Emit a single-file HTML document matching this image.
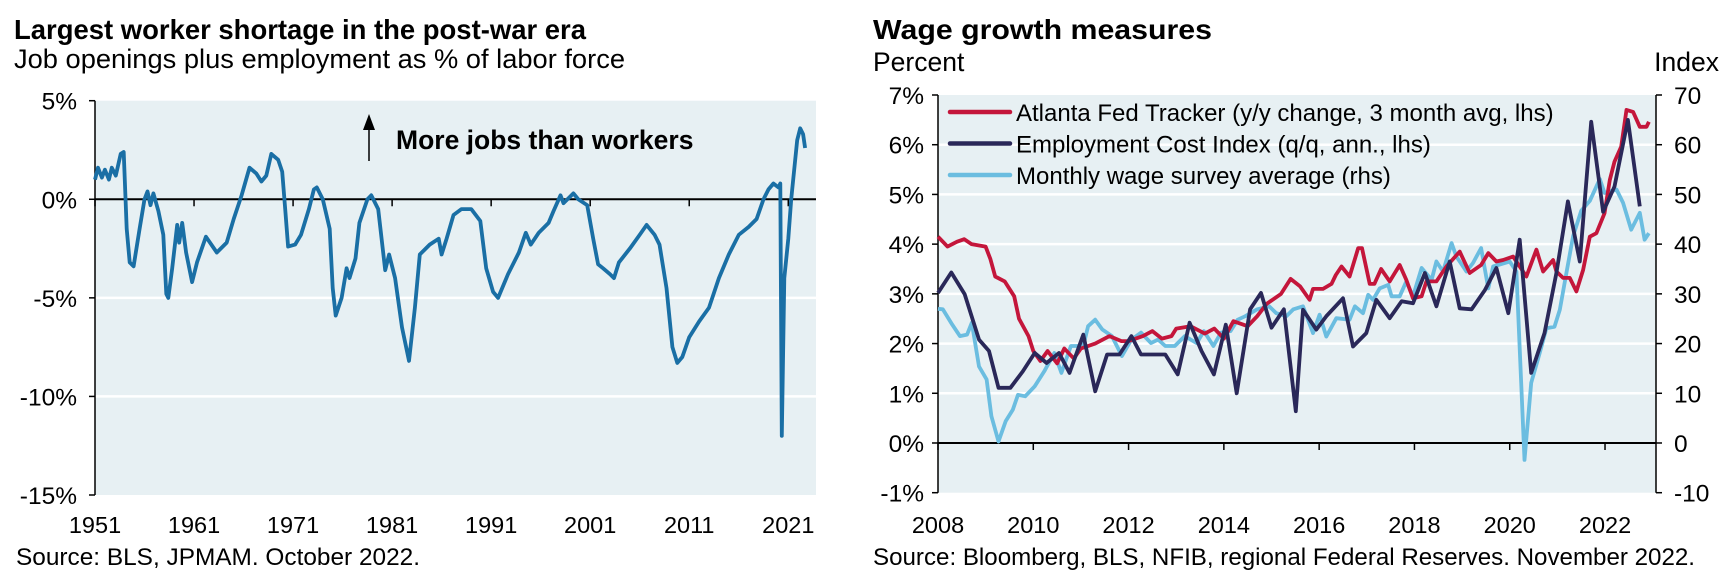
<!DOCTYPE html>
<html><head><meta charset="utf-8"><style>
html,body{margin:0;padding:0;background:#fff;}
svg{display:block;font-family:"Liberation Sans",Arial,sans-serif;}
</style></head><body>
<svg id="chart" width="1721" height="587" viewBox="0 0 1721 587" xmlns="http://www.w3.org/2000/svg">
<g id="left">
<text x="14" y="39" font-size="27.5" font-weight="bold" fill="#000" textLength="572" lengthAdjust="spacingAndGlyphs">Largest worker shortage in the post-war era</text>
<text x="14" y="68" font-size="26.5" fill="#000" textLength="611" lengthAdjust="spacingAndGlyphs">Job openings plus employment as % of labor force</text>
<text x="16" y="565" font-size="24" fill="#000" textLength="404" lengthAdjust="spacingAndGlyphs">Source: BLS, JPMAM. October 2022.</text>
</g>
<g id="right">
<text x="873" y="39" font-size="28" font-weight="bold" fill="#000" textLength="339" lengthAdjust="spacingAndGlyphs">Wage growth measures</text>
<text x="873" y="71" font-size="26.5" fill="#000">Percent</text>
<text x="1719" y="71" font-size="26.5" text-anchor="end" fill="#000">Index</text>
<text x="873" y="565" font-size="24" fill="#000" textLength="822" lengthAdjust="spacingAndGlyphs">Source: Bloomberg, BLS, NFIB, regional Federal Reserves. November 2022.</text>
</g>
</svg>
<script>
// ---------- Left chart data ----------
const leftYears = [1951.0,1951.3,1951.7,1952.0,1952.4,1952.7,1953.1,1953.6,1953.9,1954.2,1954.5,1954.9,1955.5,1956.0,1956.3,1956.6,1956.9,1957.4,1957.9,1958.2,1958.4,1958.8,1959.3,1959.5,1959.8,1960.2,1960.8,1961.3,1962.2,1963.3,1964.3,1965.0,1965.8,1966.6,1967.3,1967.8,1968.3,1968.8,1969.5,1969.9,1970.2,1970.5,1971.2,1971.8,1972.6,1973.1,1973.4,1974.0,1974.7,1975.0,1975.3,1975.9,1976.4,1976.7,1977.3,1977.7,1978.5,1978.9,1979.6,1980.3,1980.7,1981.3,1982.0,1982.7,1983.3,1983.8,1984.8,1985.7,1986.0,1986.5,1987.2,1988.0,1989.0,1989.9,1990.5,1991.2,1991.7,1992.7,1993.8,1994.5,1995.0,1995.8,1996.8,1997.3,1998.0,1998.3,1999.3,1999.8,2000.7,2001.3,2001.8,2002.3,2003.0,2003.4,2003.9,2005.0,2006.0,2006.7,2007.5,2008.0,2008.7,2009.3,2009.8,2010.3,2011.0,2012.0,2013.0,2014.0,2015.0,2016.0,2017.0,2017.8,2018.5,2019.0,2019.5,2020.0,2020.2,2020.35,2020.6,2021.0,2021.3,2021.6,2021.9,2022.2,2022.5,2022.7];
const leftValues = [1.0,1.6,1.1,1.5,1.0,1.6,1.2,2.3,2.4,-1.5,-3.2,-3.4,-1.5,0.0,0.4,-0.3,0.3,-0.6,-1.8,-4.8,-5.0,-3.5,-1.3,-2.2,-1.2,-2.7,-4.2,-3.2,-1.9,-2.7,-2.2,-1.0,0.2,1.6,1.3,0.9,1.2,2.3,2.0,1.4,-0.5,-2.4,-2.3,-1.8,-0.5,0.5,0.6,0.0,-1.5,-4.5,-5.9,-5.0,-3.5,-4.0,-3.0,-1.2,0.0,0.2,-0.5,-3.6,-2.8,-4.0,-6.5,-8.2,-5.5,-2.8,-2.3,-2.0,-2.8,-2.0,-0.8,-0.5,-0.5,-1.1,-3.5,-4.7,-5.0,-3.8,-2.7,-1.7,-2.3,-1.7,-1.2,-0.6,0.2,-0.2,0.3,0.0,-0.3,-2.0,-3.3,-3.5,-3.8,-4.0,-3.2,-2.5,-1.8,-1.3,-1.8,-2.3,-4.5,-7.5,-8.3,-8.0,-7.0,-6.2,-5.5,-4.0,-2.8,-1.8,-1.4,-1.0,0.0,0.5,0.8,0.6,0.8,-12.0,-4.0,-2.0,0.0,1.5,3.0,3.6,3.3,2.6];
const leftYTicks = [5,0,-5,-10,-15];
const leftYTickLabels = ["5%","0%","-5%","-10%","-15%"];
const leftXTicks = [1951,1961,1971,1981,1991,2001,2011,2021];

// ---------- Right chart data ----------
const atlYears = [2008.0,2008.2,2008.4,2008.55,2008.7,2009.0,2009.1,2009.2,2009.4,2009.6,2009.7,2009.9,2010.0,2010.15,2010.3,2010.5,2010.65,2010.85,2011.0,2011.3,2011.6,2011.85,2012.0,2012.3,2012.5,2012.7,2012.9,2013.0,2013.3,2013.6,2013.8,2014.0,2014.2,2014.5,2014.7,2014.9,2015.2,2015.4,2015.6,2015.8,2015.87,2016.08,2016.26,2016.35,2016.47,2016.64,2016.82,2016.9,2017.06,2017.16,2017.3,2017.48,2017.69,2017.83,2017.97,2018.15,2018.25,2018.46,2018.67,2018.95,2019.16,2019.4,2019.55,2019.72,2019.86,2020.07,2020.35,2020.56,2020.7,2020.91,2020.98,2021.12,2021.26,2021.4,2021.54,2021.68,2021.82,2021.99,2022.1,2022.2,2022.34,2022.45,2022.59,2022.73,2022.87,2022.92];
const atlValues = [4.15,3.95,4.05,4.1,4.0,3.95,3.7,3.35,3.25,2.95,2.5,2.15,1.85,1.65,1.85,1.6,1.9,1.7,1.9,2.0,2.15,2.05,2.05,2.15,2.25,2.1,2.15,2.3,2.35,2.2,2.3,2.1,2.45,2.35,2.55,2.8,3.0,3.3,3.15,2.88,3.1,3.1,3.2,3.38,3.55,3.35,3.92,3.92,3.2,3.2,3.5,3.25,3.58,3.28,2.91,2.95,3.25,3.25,3.55,3.85,3.42,3.58,3.82,3.65,3.68,3.75,3.35,3.89,3.45,3.68,3.45,3.32,3.32,3.05,3.48,4.15,4.22,4.62,5.29,5.66,5.96,6.7,6.66,6.36,6.36,6.46];
const eciYears = [2008.0,2008.28,2008.56,2008.86,2009.07,2009.27,2009.52,2009.78,2010.03,2010.28,2010.54,2010.76,2011.05,2011.3,2011.55,2011.81,2012.06,2012.26,2012.52,2012.77,2013.03,2013.28,2013.53,2013.79,2014.04,2014.27,2014.55,2014.78,2015.0,2015.26,2015.51,2015.66,2015.94,2016.15,2016.5,2016.71,2016.99,2017.2,2017.48,2017.73,2017.97,2018.22,2018.46,2018.74,2018.95,2019.2,2019.48,2019.72,2019.97,2020.21,2020.45,2020.73,2020.98,2021.22,2021.47,2021.71,2021.96,2022.2,2022.48,2022.73];
const eciValues = [3.02,3.43,2.99,2.08,1.85,1.11,1.11,1.44,1.81,1.61,1.81,1.41,2.18,1.04,1.78,1.78,2.15,1.78,1.78,1.78,1.38,2.42,1.85,1.38,2.38,1.0,2.69,3.02,2.32,2.69,0.64,2.68,2.28,2.55,2.91,1.94,2.21,2.88,2.51,2.85,2.81,3.42,2.75,3.65,2.71,2.69,3.08,3.52,2.61,4.09,1.41,2.21,3.42,4.86,3.65,6.46,4.65,5.16,6.5,4.76];
const surveyYears = [2008.0,2008.1,2008.3,2008.46,2008.61,2008.71,2008.86,2009.02,2009.12,2009.27,2009.42,2009.57,2009.68,2009.83,2010.03,2010.23,2010.44,2010.59,2010.79,2011.05,2011.15,2011.3,2011.45,2011.65,2011.86,2012.06,2012.26,2012.47,2012.62,2012.77,2012.97,2013.18,2013.43,2013.58,2013.78,2013.94,2014.14,2014.29,2014.45,2014.7,2014.95,2015.1,2015.31,2015.46,2015.66,2015.87,2016.01,2016.15,2016.36,2016.64,2016.75,2016.92,2017.03,2017.13,2017.27,2017.45,2017.52,2017.69,2017.83,2017.97,2018.15,2018.36,2018.46,2018.6,2018.78,2018.88,2019.09,2019.23,2019.4,2019.55,2019.65,2019.79,2020.0,2020.14,2020.31,2020.45,2020.63,2020.77,2020.94,2021.05,2021.19,2021.33,2021.5,2021.68,2021.89,2021.99,2022.24,2022.38,2022.55,2022.73,2022.83,2022.92];
const surveyValues = [27.0,26.9,23.8,21.5,21.8,24.2,15.4,12.8,5.4,0.3,4.4,6.7,9.7,9.4,11.4,14.4,18.1,14.1,19.5,19.5,23.5,24.8,22.8,21.5,17.5,20.8,22.2,20.1,20.8,19.5,19.5,21.5,20.1,22.5,19.5,22.2,22.5,24.8,25.5,26.9,27.5,26.1,25.5,26.9,27.5,22.1,25.8,21.4,25.1,24.8,27.5,26.1,29.8,28.8,31.1,31.8,29.5,29.5,32.5,29.5,35.2,32.8,36.5,34.5,40.2,37.5,34.5,36.2,39.2,31.1,35.5,35.9,36.5,34.5,-3.4,12.1,18.1,23.1,23.4,26.8,34.2,41.6,46.7,48.7,53.1,50.3,51.0,48.3,42.9,46.3,40.9,42.2];
const rLeftTicks = [7,6,5,4,3,2,1,0,-1];
const rLeftTickLabels = ["7%","6%","5%","4%","3%","2%","1%","0%","-1%"];
const rRightTicks = [70,60,50,40,30,20,10,0,-10];
const rXTicks = [2008,2010,2012,2014,2016,2018,2020,2022];
const legendLabels = ["Atlanta Fed Tracker (y/y change, 3 month avg, lhs)","Employment Cost Index (q/q, ann., lhs)","Monthly wage survey average (rhs)"];

const NS = "http://www.w3.org/2000/svg";
function mk(tag, attrs, parent){const e=document.createElementNS(NS,tag);for(const k in attrs)e.setAttribute(k,attrs[k]);parent.appendChild(e);return e;}

// ---------- Left chart ----------
(function(){
  const g = document.getElementById('left');
  const X0=95, X1=816, Y0=100.7, Y1=495;
  const yr0=1951, yr1=2023.8, vTop=5, vBot=-15;
  const x = yr => X0 + (yr-yr0)/(yr1-yr0)*(X1-X0);
  const y = v => Y0 + (vTop-v)/(vTop-vBot)*(Y1-Y0);
  const bg = mk('rect',{x:X0,y:Y0,width:X1-X0,height:Y1-Y0,fill:'#e7f0f3'},g);
  
  
  leftYTicks.forEach((t,i)=>{
    if(t!==0 && t!==vTop && t!==vBot){
      const gl=mk('line',{x1:X0,x2:X1,y1:y(t),y2:y(t),stroke:'#fff','stroke-width':2.5},g);
      
      
    }
    const tk=mk('line',{x1:X0-6,x2:X0,y1:y(t),y2:y(t),stroke:'#000','stroke-width':1.5},g);
    
    
    const lb=mk('text',{x:X0-18,y:y(t)+9,'font-size':24.5,'text-anchor':'end',fill:'#000'},g);
    lb.textContent=leftYTickLabels[i];
    
    
  });
  const ax=mk('line',{x1:X0,x2:X0,y1:Y0,y2:Y1,stroke:'#000','stroke-width':1.5},g);
  
  
  const zl=mk('line',{x1:X0,x2:X1,y1:y(0),y2:y(0),stroke:'#000','stroke-width':2},g);
  
  
  leftXTicks.forEach(t=>{
    const tk=mk('line',{x1:x(t),x2:x(t),y1:y(0),y2:y(0)+7,stroke:'#000','stroke-width':1.5},g);
    
    
    const lb=mk('text',{x:x(t),y:533,'font-size':23.5,'text-anchor':'middle',fill:'#000'},g);
    lb.textContent=String(t);
    
    
  });
  const pts=leftYears.map((yr,i)=>x(yr).toFixed(1)+','+y(leftValues[i]).toFixed(1)).join(' ');
  const ln=mk('polyline',{points:pts,fill:'none',stroke:'#1a6fa5','stroke-width':3.8,'stroke-linejoin':'round'},g);
  
  
  const ar=mk('line',{x1:369,x2:369,y1:161,y2:128,stroke:'#000','stroke-width':1.5},g);
  
  
  const ah=mk('polygon',{points:'369,114 363,130 375,130',fill:'#000'},g);
  
  
  const at=mk('text',{x:396,y:149,'font-size':26.5,'font-weight':'bold',fill:'#000'},g);
  at.textContent='More jobs than workers';
  
  
})();

// ---------- Right chart ----------
(function(){
  const g = document.getElementById('right');
  const X0=938, X1=1656, Y0=95, Y1=492.7;
  const yr0=2008, yr1=2023.07, vTop=7, vBot=-1;
  const x = yr => X0 + (yr-yr0)/(yr1-yr0)*(X1-X0);
  const y = v => Y0 + (vTop-v)/(vTop-vBot)*(Y1-Y0);
  const yr = v => y(v/10);
  const bg = mk('rect',{x:X0,y:Y0,width:X1-X0,height:Y1-Y0,fill:'#e7f0f3'},g);
  
  
  rLeftTicks.forEach((t,i)=>{
    if(t!==0 && t!==vTop && t!==vBot){
      const gl=mk('line',{x1:X0,x2:X1,y1:y(t),y2:y(t),stroke:'#fff','stroke-width':2.5},g);
      
      
    }
    const tk=mk('line',{x1:X0-6,x2:X0,y1:y(t),y2:y(t),stroke:'#000','stroke-width':1.5},g);
    
    
    const lb=mk('text',{x:X0-14,y:y(t)+9,'font-size':24.5,'text-anchor':'end',fill:'#000'},g);
    lb.textContent=rLeftTickLabels[i];
    
    
  });
  rRightTicks.forEach(t=>{
    const tk=mk('line',{x1:X1,x2:X1+6,y1:yr(t),y2:yr(t),stroke:'#000','stroke-width':1.5},g);
    
    
    const lb=mk('text',{x:X1+18,y:yr(t)+9,'font-size':24.5,fill:'#000'},g);
    lb.textContent=String(t);
    
    
  });
  const ax=mk('line',{x1:X0,x2:X0,y1:Y0,y2:Y1,stroke:'#000','stroke-width':1.5},g);
  
  
  const ax2=mk('line',{x1:X1,x2:X1,y1:Y0,y2:Y1,stroke:'#000','stroke-width':1.5},g);
  
  
  const zl=mk('line',{x1:X0,x2:X1,y1:y(0),y2:y(0),stroke:'#000','stroke-width':2},g);
  
  
  rXTicks.forEach(t=>{
    const tk=mk('line',{x1:x(t),x2:x(t),y1:y(0),y2:y(0)+7,stroke:'#000','stroke-width':1.5},g);
    
    
    const lb=mk('text',{x:x(t),y:533,'font-size':23.5,'text-anchor':'middle',fill:'#000'},g);
    lb.textContent=String(t);
    
    
  });
  const s3=mk('polyline',{points:surveyYears.map((a,i)=>x(a).toFixed(1)+','+yr(surveyValues[i]).toFixed(1)).join(' '),fill:'none',stroke:'#6bbde0','stroke-width':3.8,'stroke-linejoin':'round'},g);
  
  
  const s1=mk('polyline',{points:atlYears.map((a,i)=>x(a).toFixed(1)+','+y(atlValues[i]).toFixed(1)).join(' '),fill:'none',stroke:'#c4163b','stroke-width':3.8,'stroke-linejoin':'round'},g);
  
  
  const s2=mk('polyline',{points:eciYears.map((a,i)=>x(a).toFixed(1)+','+y(eciValues[i]).toFixed(1)).join(' '),fill:'none',stroke:'#2a2859','stroke-width':3.8,'stroke-linejoin':'round'},g);
  
  
  const cols=['#c4163b','#2a2859','#6bbde0'];
  const ly=[112,143.5,175];
  legendLabels.forEach((lab,i)=>{
    const l=mk('line',{x1:950,x2:1010,y1:ly[i],y2:ly[i],stroke:cols[i],'stroke-width':4.5,'stroke-linecap':'round'},g);
    
    
    const t=mk('text',{x:1016,y:ly[i]+9,'font-size':24,fill:'#000'},g);
    t.textContent=lab;
    
    
  });
})();
</script>
</body></html>
